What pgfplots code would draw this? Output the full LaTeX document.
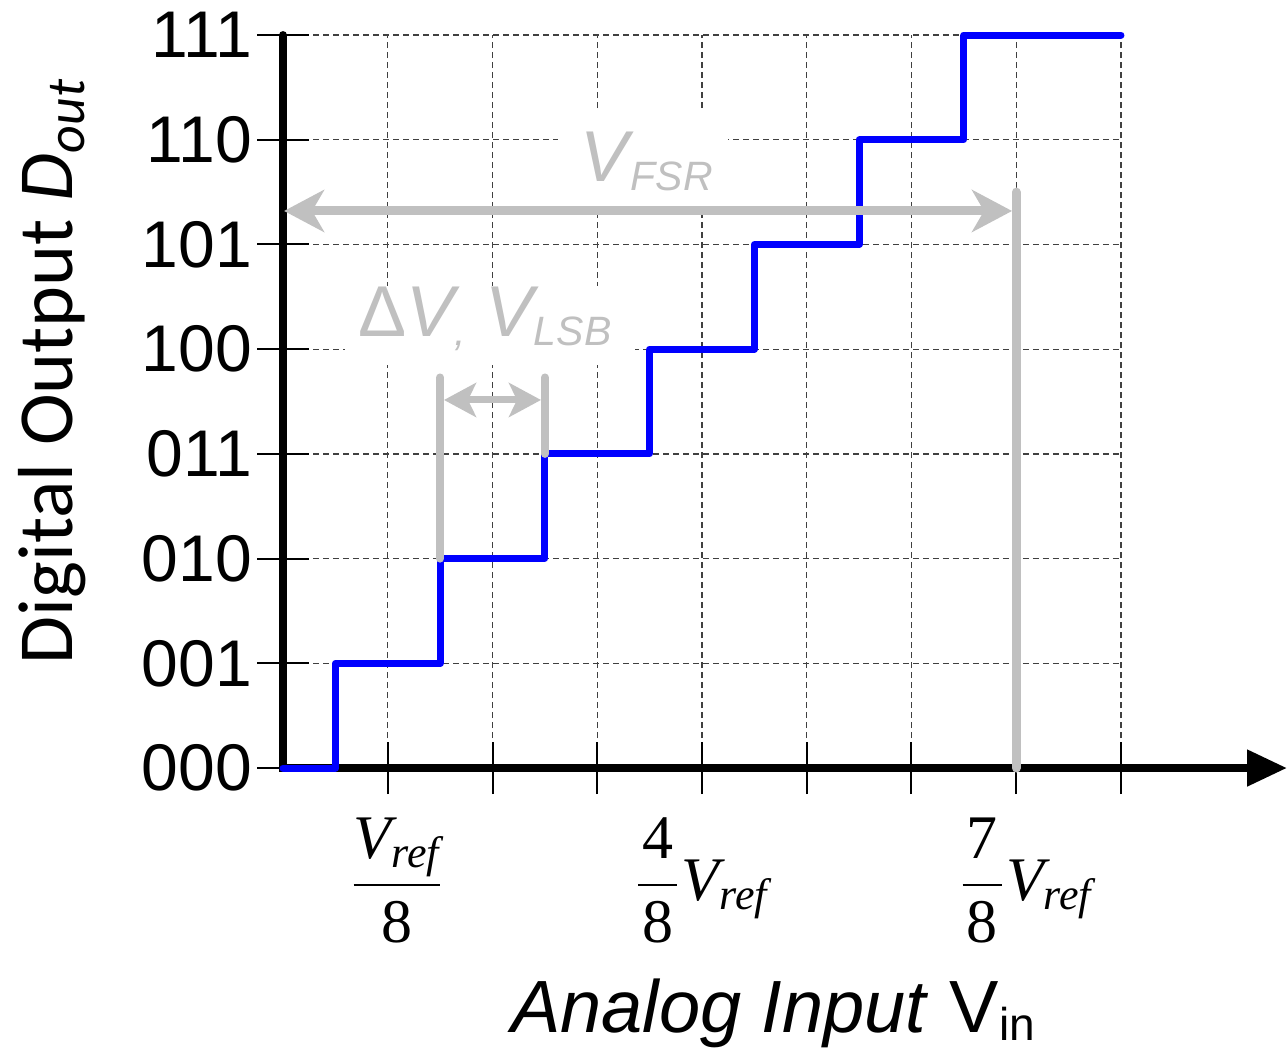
\RequirePackage{fix-cm}
\documentclass[border=0pt]{standalone}
\usepackage{amsmath}
\usepackage{fontspec}
\setmainfont{Liberation Sans}
\newfontfamily\carlito{Carlito}
\newfontfamily\tnr{Liberation Serif}
\usepackage{pgfplots}
\pgfplotsset{compat=1.18}
\usetikzlibrary{arrows.meta}
\definecolor{stepblue}{HTML}{0000FF}
\definecolor{dimgray}{HTML}{C0C0C0}

\newcommand{\Vref}{\mbox{\tnr\itshape V}_{\mbox{\tnr\itshape\fontsize{22}{22}\selectfont ref}}}
\newcommand{\tn}[1]{\mbox{\kern2pt\tnr #1\kern2pt}}
\newcommand{\sub}[1]{\raisebox{-4.5pt}{\fontsize{20.5}{20.5}\selectfont #1}}

\begin{document}
\begin{tikzpicture}
\begin{axis}[
  scale only axis, width=419pt, height=366.5pt,
  xmin=0, xmax=8, ymin=0, ymax=7,
  clip=false,
  axis line style={draw=none},
  xtick={1,...,8}, ytick={0,...,7},
  xtick pos=left, ytick pos=left,
  tick align=center, major tick length=26pt,
  tick style={black, line width=1pt},
  grid=major,
  major grid style={black!75, line width=0.6pt, dash pattern=on 3pt off 2pt},
  yticklabels={000,001,010,011,100,101,110,111},
  yticklabel style={font=\fontsize{33}{33}\selectfont, anchor=east, xshift=1pt},
  xticklabels={{\hspace*{9pt}$\dfrac{\Vref}{\mbox{\tnr 8}}$},,,{$\dfrac{\tn{4}}{\tn{8}}\kern1pt\Vref$},,,{\hspace*{10pt}$\dfrac{\tn{7}}{\tn{8}}\kern1pt\Vref$},},
  xticklabel style={font=\fontsize{31}{31}\selectfont, anchor=base, yshift=-53pt},
]
% white boxes behind the gray labels
\fill[white] (axis cs:2.625,5.36) rectangle (axis cs:4.248,6.266);
\fill[white] (axis cs:0.592,3.85) rectangle (axis cs:3.36,4.6);

% axes
\draw[line width=4pt, line cap=round, line join=miter,
  -{Triangle[length=20pt,width=17.5pt]}]
  (axis cs:0,7) -- (axis cs:0,0) -- (axis cs:9.585,0);

% transfer characteristic
\addplot[stepblue, line width=3.5pt, const plot, line cap=round, line join=round, mark=none]
  coordinates {(0,0) (0.5,1) (1.5,2) (2.5,3) (3.5,4) (4.5,5) (5.5,6) (6.5,7) (8,7)};

% full scale range
\addplot[dimgray, line width=4.5pt, line cap=round] coordinates {(7,0) (7,5.5)};
\addplot[dimgray, line width=4.5pt,
  {Stealth[length=20pt,width=21pt,inset=6pt]}-{Stealth[length=20pt,width=21pt,inset=6pt]}]
  coordinates {(0.01,5.32) (6.96,5.32)};

% LSB
\addplot[dimgray, line width=4pt, line cap=round] coordinates {(1.5,2) (1.5,3.73)};
\addplot[dimgray, line width=4pt, line cap=round] coordinates {(2.5,3) (2.5,3.73)};
\addplot[dimgray, line width=3.5pt,
  {Stealth[length=16pt,width=17pt,inset=4pt]}-{Stealth[length=16pt,width=17pt,inset=4pt]}]
  coordinates {(1.537,3.515) (2.463,3.515)};

\node[anchor=base west, inner sep=0pt, text=dimgray, font=\fontsize{36}{36}\selectfont\itshape]
  at (axis cs:2.84,5.597) {V\kern1pt\sub{FSR}};
\node[anchor=base west, inner sep=0pt, text=dimgray, font=\fontsize{36}{36}\selectfont\itshape]
  at (axis cs:0.716,4.117) {{\upshape Δ}V\sub{,} V\sub{LSB}};

% axis titles
\node[rotate=90, anchor=base, inner sep=0pt, font=\carlito\fontsize{39}{39}\selectfont]
  at (axis cs:-2.014,3.782) {Digital Output \textit{D}\raisebox{-6pt}{\fontsize{27}{27}\selectfont\itshape out}};
\node[anchor=base, inner sep=0pt, font=\fontsize{37}{37}\selectfont]
  at (axis cs:4.678,-2.521) {\textit{Analog Input} V\raisebox{-4pt}{\fontsize{23}{23}\selectfont in}};

\coordinate (bl) at (axis cs:-2.702,-2.665);
\coordinate (tr) at (axis cs:9.585,7.335);
\end{axis}
\pgfresetboundingbox
\path[use as bounding box] (bl) rectangle (tr);
\end{tikzpicture}
\end{document}
